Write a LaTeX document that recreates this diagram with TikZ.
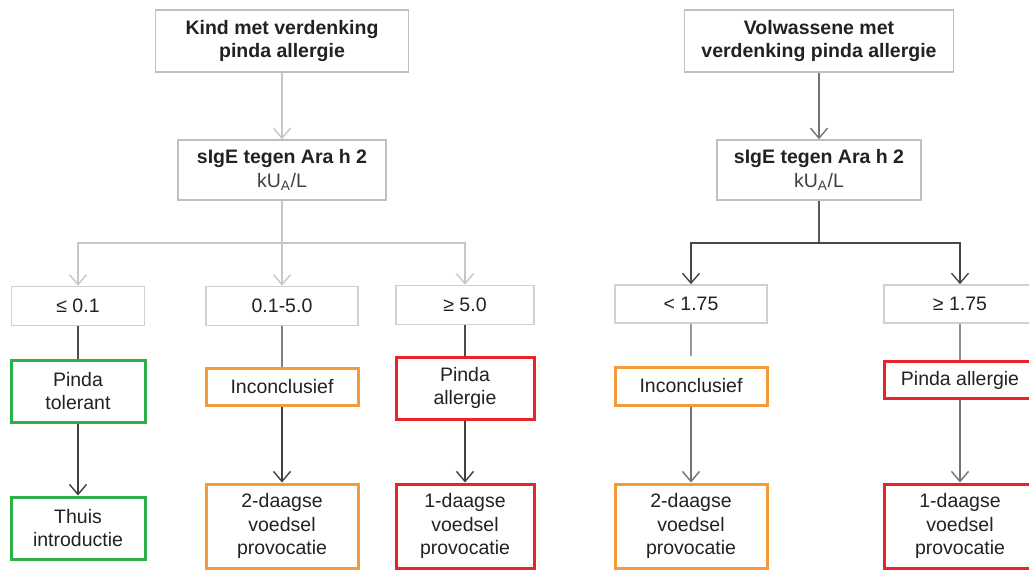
\documentclass[tikz,border=0pt]{standalone}
\usepackage{fontspec}
\setmainfont{Liberation Sans}
\usetikzlibrary{arrows.meta}
\definecolor{tgreen}{HTML}{2DB04A}
\definecolor{torange}{HTML}{F39A3C}
\definecolor{tred}{HTML}{E8232A}
\definecolor{ttext}{HTML}{222222}
\tikzset{
  box/.style={draw=#1, rectangle, inner sep=0pt, align=center, text=ttext,
    font=\fontsize{19.5}{23.5}\selectfont},
  topbox/.style={box=black!25, line width=1.5pt, font=\fontsize{19.5}{23.5}\selectfont\bfseries},
  rangebox/.style={box=black!18, line width=1.5pt},
  colbox/.style={box=#1, line width=3pt},
  arr/.style={draw=#1, line width=1.4pt, -{Straight Barb[length=10pt,width=17pt,line width=1.4pt]}},
  ln/.style={draw=#1, line width=1.4pt},
}
\begin{document}
\begin{tikzpicture}[x=1pt,y=-1pt]
\useasboundingbox[fill=white] (0,0) rectangle (1029,570);
% ---------- left tree ----------
\node[topbox, minimum width=253pt, minimum height=62pt] (k1) at (282,41) {Kind met verdenking\\pinda allergie};
\node[topbox, minimum width=208pt, minimum height=60pt] (k2) at (282,170) {sIgE tegen Ara h 2\\\mdseries\textcolor{black!75}{kU\textsubscript{A}/L}};
\node[rangebox, minimum width=133pt, minimum height=39pt] (a1) at (78,306) {≤ 0.1};
\node[rangebox, minimum width=152pt, minimum height=39pt] (a2) at (282,306) {0.1-5.0};
\node[rangebox, minimum width=138pt, minimum height=39pt] (a3) at (465,305) {≥ 5.0};
\node[colbox=tgreen, minimum width=134pt, minimum height=62pt] (b1) at (78,391) {Pinda\\tolerant};
\node[colbox=torange, minimum width=152pt, minimum height=37pt] (b2) at (282,386.5) {Inconclusief};
\node[colbox=tred, minimum width=138pt, minimum height=62pt] (b3) at (465,388) {Pinda\\allergie};
\node[colbox=tgreen, minimum width=134pt, minimum height=62pt] (c1) at (78,528) {Thuis\\introductie};
\node[colbox=torange, minimum width=152pt, minimum height=84pt] (c2) at (282,526) {2-daagse\\voedsel\\provocatie};
\node[colbox=tred, minimum width=138pt, minimum height=84pt] (c3) at (465,526) {1-daagse\\voedsel\\provocatie};
\coordinate (kj) at (282,243);
\draw[arr=black!22] (k1) -- (k2);
\draw[ln=black!22] (k2) -- (kj);
\draw[arr=black!22] (kj) -| (a1);
\draw[arr=black!22] (kj) -- (a2);
\draw[arr=black!22] (kj) -| (a3);
\draw[ln=black!70] (a1) -- (b1);
\draw[ln=black!50] (a2) -- (b2);
\draw[ln=black!70] (a3) -- (b3);
\draw[arr=black!75] (b1) -- (c1);
\draw[arr=black!75] (b2) -- (c2);
\draw[arr=black!75] (b3) -- (c3);
% ---------- right tree ----------
\node[topbox, minimum width=269pt, minimum height=62pt] (v1) at (819,41) {Volwassene met\\verdenking pinda allergie};
\node[topbox, minimum width=204pt, minimum height=60pt] (v2) at (819,170) {sIgE tegen Ara h 2\\\mdseries\textcolor{black!75}{kU\textsubscript{A}/L}};
\node[rangebox, minimum width=152pt, minimum height=38pt] (d1) at (691,304) {< 1.75};
\node[rangebox, minimum width=152pt, minimum height=38pt] (d2) at (960,304) {≥ 1.75};
\node[colbox=torange, minimum width=152pt, minimum height=38pt] (e1) at (691,386) {Inconclusief};
\node[colbox=tred, minimum width=152pt, minimum height=37pt] (e2) at (960,380) {Pinda allergie};
\node[colbox=torange, minimum width=152pt, minimum height=84pt] (f1) at (691,526) {2-daagse\\voedsel\\provocatie};
\node[colbox=tred, minimum width=152pt, minimum height=84pt] (f2) at (960,526) {1-daagse\\voedsel\\provocatie};
\coordinate (vj) at (819,243);
\draw[arr=black!55] (v1) -- (v2);
\draw[ln=black!65] (v2) -- (vj);
\draw[arr=black!72] (vj) -| (d1);
\draw[arr=black!72] (vj) -| (d2);
\draw[ln=black!40, shorten >=10pt] (d1) -- (e1);
\draw[ln=black!45] (d2) -- (e2);
\draw[arr=black!55] (e1) -- (f1);
\draw[arr=black!55] (e2) -- (f2);
\end{tikzpicture}
\end{document}
